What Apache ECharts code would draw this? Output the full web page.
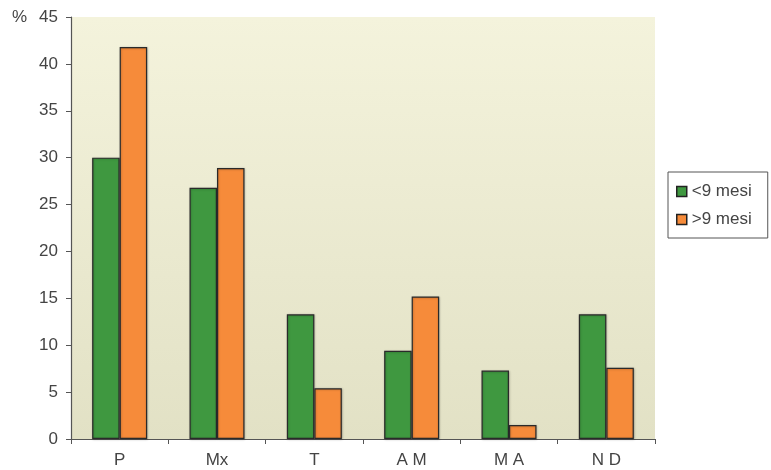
<!DOCTYPE html>
<html>
<head>
<meta charset="utf-8">
<script src="https://cdn.jsdelivr.net/npm/echarts@6/dist/echarts.min.js"></script>
<style>
  html, body { margin: 0; padding: 0; background: #ffffff; }
  #chart { width: 771px; height: 470px; }
</style>
</head>
<body>
<div id="chart"></div>
<script>
// Categories and percentages for the two age groups
const categories = ['P', 'Mx', 'T', 'A M', 'M A', 'N D'];
const under9 = [30.0, 26.8, 13.3, 9.4, 7.3, 13.3];
const over9 = [41.8, 28.9, 5.4, 15.2, 1.5, 7.6];
const seriesNames = ['<9 mesi', '>9 mesi'];
const yTicks = { min: 0, max: 45, interval: 5 };

const FONT = '"Liberation Sans", "DejaVu Sans", sans-serif';
const TEXT = '#444444';

const chart = echarts.init(document.getElementById('chart'), null, { renderer: 'canvas' });

const barStyle = (color) => ({
  color: color,
  borderColor: '#2a2a2a',
  borderWidth: 1.2,
  shadowColor: 'rgba(0,0,0,0.25)',
  shadowBlur: 2,
  shadowOffsetX: 0.5,
  shadowOffsetY: 0.5
});

chart.setOption({
  animation: false,
  backgroundColor: '#ffffff',
  textStyle: { fontFamily: FONT },
  grid: {
    left: 71, right: 116, top: 17, bottom: 31,
    show: true,
    borderWidth: 0,
    backgroundColor: new echarts.graphic.LinearGradient(0, 0, 0, 1, [
      { offset: 0, color: '#f4f3dc' },
      { offset: 1, color: '#e2e1c5' }
    ])
  },
  legend: {
    orient: 'vertical',
    left: 668, top: 172,
    padding: [11, 16, 10, 8],
    itemWidth: 10, itemHeight: 10, itemGap: 11,
    itemTextGap: 5,
    icon: 'rect',
    borderColor: '#555555', borderWidth: 1,
    backgroundColor: '#ffffff',
    textStyle: { color: TEXT, fontSize: 17, fontFamily: FONT },
    itemStyle: { borderColor: '#222222', borderWidth: 1.5 },
    data: seriesNames
  },
  xAxis: {
    type: 'category',
    data: categories,
    axisLine: { show: true, lineStyle: { color: '#555555', width: 1.2 } },
    axisTick: { show: true, length: 5, alignWithLabel: false, lineStyle: { color: '#555555' } },
    axisLabel: { color: TEXT, fontSize: 17, margin: 13, fontFamily: FONT },
    splitLine: { show: false }
  },
  yAxis: {
    type: 'value',
    min: yTicks.min, max: yTicks.max, interval: yTicks.interval,
    axisLine: { show: true, lineStyle: { color: '#555555', width: 1.2 } },
    axisTick: { show: true, length: 5, lineStyle: { color: '#555555' } },
    axisLabel: { color: TEXT, fontSize: 17, margin: 13, fontFamily: FONT },
    splitLine: { show: false }
  },
  series: [
    {
      name: seriesNames[0], type: 'bar', data: under9,
      barWidth: 27.5, barGap: '0%',
      itemStyle: barStyle('#3f9840')
    },
    {
      name: seriesNames[1], type: 'bar', data: over9,
      barWidth: 27.5, barGap: '0%',
      itemStyle: barStyle('#f68b3a')
    }
  ],
  graphic: [
    {
      type: 'text', x: 12, y: 17,
      style: { text: '%', fill: TEXT, font: '17px ' + FONT, textVerticalAlign: 'middle' }
    },
    {
      type: 'text', x: 405, y: 4,
      style: { text: 'N D = non determinata', fill: '#999999', font: '17px ' + FONT, textVerticalAlign: 'bottom' }
    }
  ]
});
</script>
</body>
</html>
